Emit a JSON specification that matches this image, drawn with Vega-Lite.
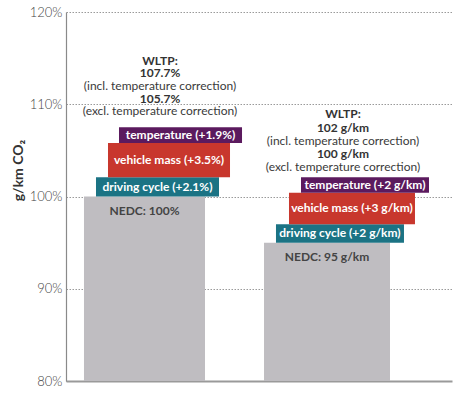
{
  "$schema": "https://vega.github.io/schema/vega-lite/v6.json",
  "width": 386,
  "height": 369,
  "autosize": {"type": "none"},
  "padding": {"left": 66, "top": 12, "right": 14, "bottom": 13},
  "config": {
    "view": {"stroke": null},
    "font": "Lato"
  },
  "datasets": {
    "bars": [
      {"name": "NEDC: 100%", "x": 4.66, "x2": 36.01, "centre": 20.34, "value": 100},
      {"name": "NEDC: 95 g/km", "x": 51.3, "x2": 83.94, "centre": 67.62, "value": 95}
    ],
    "steps": [
      {"label": "driving cycle (+2.1%)", "step": "driving cycle", "x": 7.77, "x2": 39.64, "centre": 23.7, "y": 100, "y2": 102.1, "mid": 101.05},
      {"label": "vehicle mass (+3.5%)", "step": "vehicle mass", "x": 10.88, "x2": 42.49, "centre": 26.69, "y": 102.1, "y2": 105.8, "mid": 103.95},
      {"label": "temperature (+1.9%)", "step": "temperature", "x": 13.73, "x2": 45.6, "centre": 29.67, "y": 105.8, "y2": 107.5, "mid": 106.65},
      {"label": "driving cycle (+2 g/km)", "step": "driving cycle", "x": 54.4, "x2": 87.56, "centre": 70.98, "y": 95, "y2": 97, "mid": 96},
      {"label": "vehicle mass (+3 g/km)", "step": "vehicle mass", "x": 57.77, "x2": 90.41, "centre": 74.09, "y": 97, "y2": 100.4, "mid": 98.7},
      {"label": "temperature (+2 g/km)", "step": "temperature", "x": 60.88, "x2": 94.04, "centre": 77.46, "y": 100.4, "y2": 102.1, "mid": 101.25}
    ],
    "notes": [
      {"text": "WLTP:", "kind": "bold", "x": 24.35, "y": 114.69},
      {"text": "107.7%", "kind": "bold", "x": 24.35, "y": 113.39},
      {"text": "(incl. temperature correction)", "kind": "plain", "x": 24.35, "y": 111.98},
      {"text": "105.7%", "kind": "bold", "x": 24.35, "y": 110.57},
      {"text": "(excl. temperature correction)", "kind": "plain", "x": 24.35, "y": 109.27},
      {"text": "WLTP:", "kind": "bold", "x": 71.76, "y": 108.94},
      {"text": "102 g/km", "kind": "bold", "x": 71.76, "y": 107.43},
      {"text": "(incl. temperature correction)", "kind": "plain", "x": 71.76, "y": 106.02},
      {"text": "100 g/km", "kind": "bold", "x": 71.76, "y": 104.61},
      {"text": "(excl. temperature correction)", "kind": "plain", "x": 71.76, "y": 103.2}
    ]
  },
  "layer": [
    {
      "data": {"name": "bars"},
      "mark": {"type": "bar", "color": "#bfbdc1"},
      "encoding": {
        "x": {
          "field": "x", "type": "quantitative",
          "scale": {"domain": [0, 100], "nice": false, "zero": false},
          "axis": {"title": null, "labels": false, "ticks": false, "grid": false, "domainColor": "#9a9a9a", "domainWidth": 2}
        },
        "x2": {"field": "x2"},
        "y": {
          "field": "value", "type": "quantitative",
          "scale": {"domain": [80, 120], "nice": false, "zero": false},
          "axis": {
            "title": "g/km CO₂",
            "titleFont": "Lato", "titleFontWeight": "bold", "titleFontSize": 14, "titleColor": "#333",
            "titleAngle": -90, "titleX": -48, "titleY": 158, "titleAlign": "center", "titleBaseline": "middle",
            "values": [80, 90, 100, 110, 120],
            "labelExpr": "datum.value + '%'",
            "labelFont": "Lato", "labelFontWeight": 300, "labelFontSize": 13, "labelColor": "#444", "labelPadding": 4,
            "ticks": false,
            "domainColor": "#8a8a8a", "domainWidth": 1.2,
            "grid": true, "gridColor": "#9a9a9a", "gridDash": [1.5, 1.5], "gridWidth": 1
          }
        },
        "y2": {"datum": 80}
      }
    },
    {
      "data": {"name": "bars"},
      "mark": {"type": "text", "font": "Lato", "fontWeight": "bold", "fontSize": 12, "color": "#444", "baseline": "middle", "dy": 14},
      "encoding": {
        "x": {"field": "centre", "type": "quantitative"},
        "y": {"field": "value", "type": "quantitative"},
        "text": {"field": "name"}
      }
    },
    {
      "data": {"name": "steps"},
      "mark": {"type": "bar"},
      "encoding": {
        "x": {"field": "x", "type": "quantitative"},
        "x2": {"field": "x2"},
        "y": {"field": "y", "type": "quantitative"},
        "y2": {"field": "y2"},
        "color": {
          "field": "step", "type": "nominal",
          "scale": {"domain": ["driving cycle", "vehicle mass", "temperature"], "range": ["#1b7384", "#c8372d", "#5b1a5e"]},
          "legend": null
        }
      }
    },
    {
      "data": {"name": "steps"},
      "mark": {"type": "text", "font": "Lato", "fontWeight": "bold", "fontSize": 12, "color": "white", "baseline": "middle"},
      "encoding": {
        "x": {"field": "centre", "type": "quantitative"},
        "y": {"field": "mid", "type": "quantitative"},
        "text": {"field": "label"}
      }
    },
    {
      "data": {"name": "notes"},
      "transform": [{"filter": "datum.kind === 'bold'"}],
      "mark": {"type": "text", "font": "Lato", "fontSize": 12, "fontWeight": "bold", "color": "#333", "baseline": "middle"},
      "encoding": {
        "x": {"field": "x", "type": "quantitative"},
        "y": {"field": "y", "type": "quantitative"},
        "text": {"field": "text"}
      }
    },
    {
      "data": {"name": "notes"},
      "transform": [{"filter": "datum.kind === 'plain'"}],
      "mark": {"type": "text", "font": "Lato", "fontSize": 12, "color": "#3a3a3a", "baseline": "middle"},
      "encoding": {
        "x": {"field": "x", "type": "quantitative"},
        "y": {"field": "y", "type": "quantitative"},
        "text": {"field": "text"}
      }
    }
  ]
}
